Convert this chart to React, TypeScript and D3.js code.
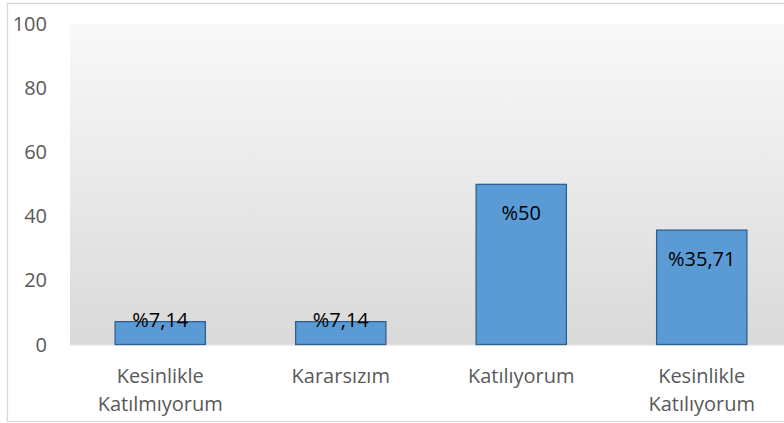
import React from "react";
import * as d3 from "d3";

const categories: string[][] = [
  ["Kesinlikle", "Katılmıyorum"],
  ["Kararsızım"],
  ["Katılıyorum"],
  ["Kesinlikle", "Katılıyorum"],
];
const values: number[] = [7.14, 7.14, 50, 35.71];
const labels: string[] = ["%7,14", "%7,14", "%50", "%35,71"];
const yTicks: number[] = [0, 20, 40, 60, 80, 100];

const W = 784;
const H = 423;

export default function App() {
  const keys = categories.map((_, i) => String(i));
  const x = d3.scaleBand<string>().domain(keys).range([70, 792]).paddingInner(0.5).paddingOuter(0.25);
  const y = d3.scaleLinear().domain([0, 100]).range([344.5, 24.2]);
  const font = "'Open Sans', sans-serif";
  const bw = x.bandwidth();
  const x0 = x(keys[0])! - x.step() * 0.25;
  return (
    <svg width={W} height={H} style={{ position: "absolute", left: 0, top: 0, background: "#fff" }}>
      <defs>
        <linearGradient id="bg" x1="0" y1="0" x2="0" y2="1">
          <stop offset="0" stopColor="#f9f9f9" />
          <stop offset="1" stopColor="#d9d9d9" />
        </linearGradient>
      </defs>
      <rect x={7.5} y={3.5} width={W + 10} height={418} fill="#fff" stroke="#d9d9d9" strokeWidth={1.3} />
      <rect x={x0} y={y(100)} width={W - x0 + 10} height={y(0) - y(100)} fill="url(#bg)" />
      <line x1={x0} x2={W + 10} y1={y(0) + 0.5} y2={y(0) + 0.5} stroke="#d9d9d9" strokeWidth={1} />
      {yTicks.map((t) => (
        <text key={t} x={47} y={y(t)} dy="0.35em" textAnchor="end" fontFamily={font} fontSize={20} fill="#595959">
          {t}
        </text>
      ))}
      {values.map((v, i) => (
        <rect
          key={i}
          x={x(keys[i])!}
          y={y(v)}
          width={bw}
          height={y(0) - y(v)}
          fill="#5b9bd5"
          stroke="#2f5f8f"
          strokeWidth={1.3}
        />
      ))}
      {values.map((v, i) => (
        <text
          key={i}
          x={x(keys[i])! + bw / 2}
          y={Math.min(y(v) + 36, y(0) - 17.5)}
          textAnchor="middle"
          fontFamily={font}
          fontSize={20}
          fill="#000"
        >
          {labels[i]}
        </text>
      ))}
      {categories.map((lines, i) => (
        <text key={i} textAnchor="middle" fontFamily={font} fontSize={20} fill="#595959">
          {lines.map((l, j) => (
            <tspan key={j} x={x(keys[i])! + bw / 2} y={383 + j * 27.5}>
              {l}
            </tspan>
          ))}
        </text>
      ))}
    </svg>
  );
}
